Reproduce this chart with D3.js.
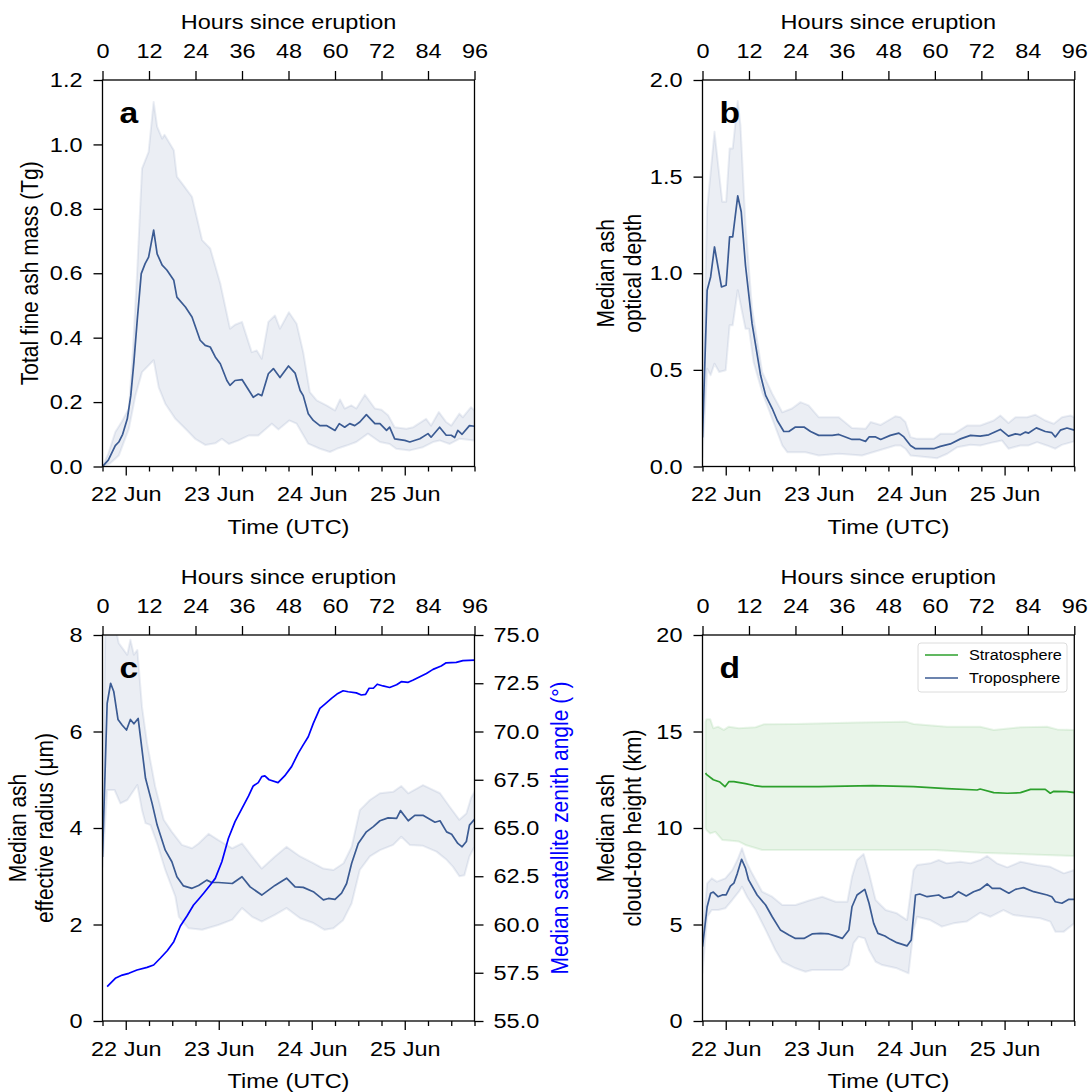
<!DOCTYPE html>
<html><head><meta charset="utf-8">
<script src="https://cdn.jsdelivr.net/npm/d3@7"></script>
<style>
body{margin:0;background:#fff}
svg{display:block}
text{font-family:"Liberation Sans",Arial,Helvetica,sans-serif;fill:#000}
</style>
</head><body>
<svg id="chart" width="1088" height="1092"></svg>
<script>
// ---------------- DATA (hours since eruption, value) ----------------
const hourTicks = [0, 12, 24, 36, 48, 60, 72, 84, 96];
const massTicks = [0, 0.2, 0.4, 0.6, 0.8, 1.0, 1.2];
const aodTicks = [0, 0.5, 1.0, 1.5, 2.0];
const reffTicks = [0, 2, 4, 6, 8];
const szaTicks = [55, 57.5, 60, 62.5, 65, 67.5, 70, 72.5, 75];
const heightTicks = [0, 5, 10, 15, 20];
const legendLabels = ["Stratosphere", "Troposphere"];

const massMedian = [[0,0],[1.5,0.02],[3.3,0.065],[4.2,0.076],[5.2,0.1],[6.4,0.148],[7.3,0.22],[8.1,0.324],[9,0.46],[10,0.599],[11,0.63],[11.9,0.65],[13.2,0.734],[14.1,0.66],[15.4,0.625],[16.6,0.61],[18.4,0.578],[19.2,0.526],[21.4,0.495],[23.1,0.464],[25.2,0.392],[26.5,0.376],[27.8,0.371],[29.1,0.34],[30.4,0.319],[32.1,0.267],[32.9,0.252],[34.2,0.267],[36,0.27],[38.9,0.215],[40.2,0.225],[41.1,0.22],[42.8,0.288],[44.1,0.304],[45.8,0.276],[48,0.312],[49.7,0.29],[51,0.236],[51.8,0.22],[53.1,0.164],[54.4,0.143],[56.1,0.127],[57.8,0.127],[60,0.112],[61.1,0.133],[62.5,0.122],[63.8,0.133],[65.1,0.127],[66.4,0.138],[68.1,0.161],[70.3,0.133],[71.6,0.133],[73.3,0.112],[74.1,0.122],[75.4,0.086],[78,0.081],[79.3,0.076],[81.9,0.086],[84,0.102],[84.8,0.091],[87,0.122],[88.7,0.097],[90,0.097],[90.9,0.09],[91.7,0.112],[92.8,0.1],[94.7,0.127],[96,0.125]];
const massHigh = [[0,0],[1.5,0.04],[3.3,0.107],[5,0.14],[6.8,0.18],[7.8,0.35],[8.9,0.594],[10.2,0.925],[11.9,0.977],[13.2,1.132],[14.1,1.055],[15.4,1.018],[16,1.03],[18.4,0.982],[19.2,0.9],[20.9,0.873],[23.1,0.837],[25.7,0.703],[27.8,0.677],[30.4,0.568],[32.9,0.428],[34.2,0.44],[36,0.449],[38.5,0.355],[39.8,0.36],[41.1,0.335],[42.8,0.449],[44.5,0.469],[45.8,0.428],[48.1,0.479],[50.1,0.443],[51.8,0.355],[53.5,0.231],[55.3,0.205],[57.8,0.19],[60,0.174],[61.3,0.208],[62.5,0.18],[64.2,0.19],[65.5,0.18],[67.7,0.223],[70.3,0.18],[72,0.176],[73.7,0.159],[75.4,0.122],[78.4,0.117],[80.2,0.122],[83.5,0.148],[84.8,0.127],[86.8,0.169],[88.7,0.138],[90,0.127],[92.1,0.164],[93,0.153],[95.1,0.184],[96,0.174]];
const massLow = [[0,0],[2,0.01],[4.2,0.034],[6.8,0.117],[8.5,0.22],[10.2,0.293],[13.2,0.33],[14.5,0.246],[16.2,0.195],[18.8,0.148],[21.4,0.117],[23.9,0.086],[26.5,0.067],[29.1,0.072],[30.8,0.086],[32.6,0.07],[35.1,0.081],[37.7,0.096],[40.2,0.096],[43.7,0.133],[45.4,0.115],[48.2,0.143],[50.1,0.133],[53.1,0.071],[56.1,0.055],[58.7,0.045],[60.5,0.055],[63,0.065],[65.5,0.076],[68.5,0.102],[71.6,0.076],[74.1,0.07],[75.8,0.055],[79.3,0.05],[82.7,0.06],[85.3,0.076],[87,0.081],[89.6,0.07],[92.1,0.086],[96,0.081]];

const aodMedian = [[0,0.15],[1.2,0.912],[2.1,0.981],[3.1,1.136],[4.9,0.929],[6.1,0.938],[7,1.188],[7.8,1.188],[9.1,1.4],[10,1.318],[11.1,1.04],[12.8,0.739],[15,0.472],[16.3,0.368],[18,0.3],[19.3,0.238],[21,0.181],[22.3,0.181],[24,0.204],[26.2,0.204],[27.9,0.181],[30,0.161],[33.5,0.161],[35.2,0.166],[38.6,0.14],[40.7,0.14],[42.1,0.13],[43,0.153],[44.7,0.153],[46,0.14],[48.5,0.161],[50.7,0.173],[52,0.153],[53.7,0.109],[55,0.092],[59.7,0.092],[61.4,0.104],[64,0.117],[66.6,0.143],[69.2,0.161],[71.7,0.157],[73.9,0.164],[76.9,0.192],[79,0.157],[80.8,0.169],[82.1,0.164],[83.4,0.178],[84.2,0.173],[86.2,0.2],[88.5,0.181],[90.2,0.175],[91.1,0.153],[92.4,0.188],[94.1,0.199],[96,0.188]];
const aodHigh = [[0,0.3],[1.2,1.335],[3.1,1.732],[5.1,1.37],[6.1,1.37],[7,1.646],[7.8,1.646],[9.1,1.891],[9.8,1.767],[11.1,1.249],[12.8,0.817],[15.4,0.489],[18,0.377],[20.6,0.281],[23.1,0.3],[25.3,0.333],[27.4,0.316],[30,0.255],[35.2,0.255],[38.6,0.199],[42.1,0.195],[43.4,0.23],[46,0.215],[49.8,0.26],[51.1,0.255],[52.4,0.23],[53.7,0.152],[55.4,0.143],[59.7,0.143],[61.4,0.169],[64.9,0.169],[68.3,0.212],[71.7,0.212],[75.2,0.238],[76.9,0.264],[79,0.225],[80.8,0.255],[83.8,0.255],[85.9,0.268],[88.5,0.238],[90.7,0.221],[92.8,0.255],[95,0.264],[96,0.255]];
const aodLow = [[0,0.05],[1.2,0.506],[2.1,0.472],[3.1,0.532],[4.3,0.489],[6,0.498],[7,0.731],[7.8,0.731],[9.1,0.912],[11.1,0.713],[12,0.713],[13.2,0.54],[15.4,0.385],[18,0.247],[20.6,0.109],[21.9,0.074],[26.6,0.074],[30,0.057],[35.2,0.066],[41.2,0.057],[45.5,0.083],[49.8,0.109],[51.1,0.109],[52.4,0.092],[53.7,0.057],[60.6,0.043],[63.2,0.066],[65.8,0.1],[69.2,0.112],[71.7,0.109],[75.2,0.126],[77.3,0.135],[79,0.092],[82.1,0.109],[84.2,0.109],[86.4,0.126],[88.9,0.109],[91.1,0.092],[92.8,0.112],[96,0.13]];

const reffMedian = [[0,3.4],[1.2,6.58],[2.1,7.0],[2.9,6.83],[4,6.25],[5.1,6.13],[6.2,6.03],[7.2,6.25],[8.1,6.16],[9.2,6.27],[10.2,5.62],[11.1,5.03],[12.8,4.51],[14.1,4.06],[16.2,3.54],[17.9,3.3],[19.2,2.99],[20.9,2.8],[23.1,2.75],[24.8,2.81],[26.9,2.92],[28.2,2.87],[29.9,2.87],[33.5,2.85],[36,2.99],[38.1,2.78],[41.1,2.61],[44.5,2.81],[47.5,2.96],[49.7,2.78],[51.8,2.77],[54.4,2.68],[57,2.51],[58.3,2.54],[60,2.52],[61.7,2.65],[63,2.85],[64.3,3.27],[66,3.68],[68.1,3.92],[69.9,4.03],[71.6,4.15],[73.7,4.21],[75.9,4.2],[76.9,4.36],[78.9,4.15],[80.6,4.26],[82.8,4.26],[85.8,4.12],[87.1,4.15],[88.8,3.92],[90.1,3.87],[91.7,3.68],[92.8,3.61],[93.9,3.72],[94.7,4.06],[96,4.18]];
const reffHigh = [[0,3.6],[0.8,8.6],[2.5,8.4],[3.5,8.1],[4.2,7.83],[6.4,7.59],[7.2,7.9],[8.1,7.59],[9,7.69],[10.2,6.51],[11.5,5.76],[13.6,4.86],[15.8,4.17],[17.9,3.92],[20.5,3.65],[23.1,3.58],[24.8,3.68],[27.4,3.88],[29.9,3.75],[33.5,3.58],[36,3.68],[38.6,3.41],[41.1,3.16],[44.5,3.41],[47.5,3.61],[51,3.41],[54.4,3.27],[57,3.16],[59.6,3.13],[62.2,3.27],[64.3,3.61],[66.4,4.37],[69,4.58],[71.6,4.72],[75,4.75],[77.1,4.87],[78.9,4.72],[82.7,4.89],[87.1,4.72],[89.6,4.44],[92.1,4.17],[93.9,4.3],[95.1,4.62],[96,4.75]];
const reffLow = [[0,3.2],[1.2,4.79],[3.1,4.79],[4.6,4.51],[6.4,4.58],[9,4.89],[10.2,4.37],[11.1,4.1],[12.4,4.06],[14.1,3.68],[16.2,3.13],[18.8,2.58],[19.7,2.16],[22.2,1.92],[25.7,1.89],[29.9,1.99],[33.5,2.1],[36,2.34],[38.6,2.16],[41.1,2.06],[44.5,2.2],[47.5,2.34],[51,2.13],[54.4,2.03],[57.3,1.89],[59.6,1.92],[62.1,2.09],[64.3,2.44],[66.4,3.13],[69,3.41],[71.6,3.54],[75,3.65],[77.1,3.82],[79.3,3.65],[82.7,3.63],[86.2,3.51],[88.8,3.34],[90.4,3.2],[92.1,3.0],[93.4,3.02],[94.7,3.41],[96,3.61]];

const szaMedian = [[1.2,56.78],[3.3,57.21],[5.1,57.38],[6.8,57.47],[8.9,57.64],[11.5,57.78],[13.2,57.9],[14.9,58.25],[16.7,58.64],[18.4,59.11],[20.1,59.92],[21.8,60.44],[23.5,61.01],[24.8,61.31],[26.1,61.62],[27.8,62.05],[29.1,62.39],[30.8,63.25],[32.5,64.47],[34.2,65.33],[36,66.02],[37.7,66.66],[38.9,67.18],[40.2,67.35],[41.1,67.66],[41.9,67.7],[43,67.5],[45.3,67.35],[47,67.7],[48.8,68.18],[50.5,68.87],[51.8,69.31],[53.1,69.73],[54.4,70.42],[56.1,71.2],[57.4,71.42],[59.1,71.72],[60.5,71.94],[62.1,72.11],[63.4,72.06],[65.5,72.0],[66.8,71.89],[67.9,71.92],[68.8,72.24],[69.9,72.24],[70.9,72.45],[72.4,72.36],[74.1,72.28],[75.9,72.42],[77.1,72.58],[78.9,72.55],[80.2,72.67],[81.9,72.84],[83.6,73.01],[85.3,73.22],[87.4,73.39],[88.7,73.56],[91.3,73.58],[93,73.67],[96,73.7]];

const stratMedian = [[0.8,12.85],[1,12.78],[2.8,12.5],[4.5,12.38],[5.8,12.14],[6.8,12.4],[8.1,12.4],[11.1,12.3],[13.3,12.2],[15.4,12.14],[30,12.14],[43.9,12.2],[54.5,12.14],[63.1,12.04],[70.9,11.97],[71.7,12.02],[75.2,11.83],[78.7,11.8],[82.1,11.83],[84.7,12.0],[88.5,12.0],[89.8,11.8],[90.7,11.9],[94.1,11.88],[96,11.83]];
const stratHigh = [[0.8,15.5],[1,15.63],[2,15.63],[2.8,15.17],[4,15.25],[5.5,15.08],[6.8,15.25],[9.4,15.17],[13.7,15.22],[15.8,15.37],[24,15.39],[40,15.46],[52.5,15.51],[54.5,15.39],[63.1,15.25],[71.7,15.25],[75.2,15.08],[82.1,15.22],[89,15.25],[91.6,15.11],[96,15.08]];
const stratLow = [[0.8,10.0],[1,9.9],[2,9.72],[3.3,9.8],[5.1,9.38],[6.8,9.35],[9.4,9.3],[11.1,9.12],[15.4,8.86],[40,8.86],[60,8.86],[71.7,8.72],[96,8.55]];

const tropoMedian = [[0,3.85],[1.2,5.92],[2.1,6.62],[2.8,6.68],[4,6.44],[5.1,6.53],[6.1,6.53],[7.2,6.99],[8.1,7.14],[9,7.65],[10.1,8.38],[11.1,7.92],[11.9,7.31],[14.1,6.53],[16.3,6.01],[18,5.4],[20.1,4.72],[22.3,4.46],[24,4.28],[26.2,4.28],[28.3,4.51],[30.5,4.54],[32.6,4.51],[34.4,4.4],[36.1,4.28],[37.8,4.72],[38.6,5.92],[39.9,6.53],[41.9,6.82],[43,6.1],[44.2,5.06],[45.3,4.54],[47.1,4.4],[48.5,4.23],[50.2,4.06],[52.8,3.89],[53.9,4.2],[55,6.53],[56.1,6.58],[58,6.44],[61,6.53],[62.3,6.36],[64.4,6.44],[66.1,6.7],[68.1,6.48],[70,6.7],[71.7,6.82],[73.5,7.1],[74.8,6.87],[76.9,6.87],[79.1,6.62],[80.8,6.82],[82.9,6.91],[85.5,6.7],[89,6.53],[90.2,6.44],[91.1,6.18],[92.8,6.1],[94.5,6.3],[96,6.3]];
const tropoHigh = [[0,4.5],[1.2,7.13],[2.4,7.39],[3.7,7.22],[5.9,7.39],[7.7,7.82],[9,8.34],[10.2,8.95],[11.5,8.17],[12.8,7.65],[15.4,6.7],[18,6.44],[20.6,6.01],[24,6.01],[27.5,6.24],[30.9,6.44],[34.4,6.18],[37.4,6.18],[38.6,7.48],[39.9,8.34],[41.6,8.65],[43,7.65],[44.7,6.27],[47.3,5.75],[50.2,5.58],[52.8,5.23],[54.5,7.82],[55.4,8.08],[58.8,8.17],[61,8.34],[63.1,8.17],[66.6,8.25],[69.2,8.17],[71.7,8.34],[73.5,8.55],[76,8.17],[78.7,7.96],[82.1,8.25],[86.4,8.08],[89.8,7.99],[93.3,7.65],[96,7.82]];
const tropoLow = [[0,2.5],[1.2,5.4],[2.4,5.75],[4.1,5.75],[5.9,5.84],[7.7,6.27],[9.4,6.7],[10.2,6.96],[11.5,6.44],[13.7,5.75],[16.3,4.72],[18.8,3.68],[20.6,3.07],[24,2.73],[26.6,2.55],[28.3,2.64],[36.1,2.64],[37.8,2.9],[39,4.03],[40.3,4.37],[41.9,4.28],[43,3.68],[44.7,3.07],[46.4,2.9],[50.2,2.73],[53.2,2.47],[54.5,4.72],[55.4,5.4],[58.8,5.23],[61.8,4.89],[64.8,5.06],[68.2,5.15],[71.7,5.61],[74.3,5.4],[77.7,5.75],[80.3,5.49],[83.7,5.4],[87.2,5.32],[89.8,5.15],[91.1,4.63],[93.3,4.63],[96,5.06]];

// ---------------- STYLE / LAYOUT ----------------
const BLUE = "#3b5b93", GREEN = "#2ca02c", SZA = "#0000ff";
const FS = 21;          // base font size
const SX = 1.12;        // horizontal glyph stretch seen in the reference
const t0 = new Date(Date.UTC(2019, 5, 21, 18));
const t1 = new Date(Date.UTC(2019, 5, 25, 18));
const svg = d3.select("#chart");

const panels = [
  {letter:"a", box:{x0:102.5,x1:474.5,y0:80,y1:466.5}, ydom:[0,1.2], yticks:massTicks, yfmt:d3.format(".1f"),
   ylab:[["Total fine ash mass (Tg)", 30]],
   series:[{med:massMedian, lo:massLow, hi:massHigh, color:BLUE}]},
  {letter:"b", box:{x0:702.5,x1:1074.3,y0:80,y1:466.5}, ydom:[0,2], yticks:aodTicks, yfmt:d3.format(".1f"),
   ylab:[["Median ash", 606],["optical depth", 633]],
   series:[{med:aodMedian, lo:aodLow, hi:aodHigh, color:BLUE}]},
  {letter:"c", box:{x0:102.5,x1:474.5,y0:635,y1:1021}, ydom:[0,8], yticks:reffTicks, yfmt:d3.format("d"),
   ylab:[["Median ash", 18],["effective radius (\u03bcm)", 45]],
   series:[{med:reffMedian, lo:reffLow, hi:reffHigh, color:BLUE}],
   right:{dom:[55,75], ticks:szaTicks, fmt:d3.format(".1f"), data:szaMedian, color:SZA, label:"Median satellite zenith angle (\u00b0)", lx:560}},
  {letter:"d", box:{x0:702.5,x1:1074.3,y0:635,y1:1021}, ydom:[0,20], yticks:heightTicks, yfmt:d3.format("d"),
   ylab:[["Median ash", 606],["cloud-top height (km)", 633]],
   series:[{med:stratMedian, lo:stratLow, hi:stratHigh, color:GREEN},{med:tropoMedian, lo:tropoLow, hi:tropoHigh, color:BLUE}],
   legend:true}
];

function styleAxis(sel) {
  sel.select(".domain").remove();
  sel.selectAll(".tick line").attr("stroke", "#000").attr("stroke-width", 1.3);
  sel.selectAll(".tick text").attr("font-size", FS).attr("fill", "#000")
     .attr("font-family", "'Liberation Sans',Arial,Helvetica,sans-serif");
}
function vLabel(g, txt, lx, cy, color) {
  const t = g.append("g").attr("transform", `translate(${lx},${cy})`)
    .append("text").attr("transform", "rotate(-90)").attr("text-anchor", "middle")
    .attr("dy", "0.35em").attr("font-size", FS).text(txt);
  if (color) t.style("fill", color);
}

panels.forEach((p, i) => {
  const b = p.box;
  const g = svg.append("g");
  const x = d3.scaleLinear().domain([0, 96]).range([b.x0, b.x1]);
  const tx = d3.scaleUtc().domain([t0, t1]).range([b.x0, b.x1]);
  const y = d3.scaleLinear().domain(p.ydom).range([b.y1, b.y0]);

  const clipId = "clip" + i;
  svg.append("clipPath").attr("id", clipId).append("rect")
    .attr("x", b.x0).attr("y", b.y0).attr("width", b.x1 - b.x0).attr("height", b.y1 - b.y0);
  const plot = g.append("g").attr("clip-path", `url(#${clipId})`);

  const line = d3.line().x(d => x(d[0])).y(d => y(d[1]));
  p.series.forEach(s => {
    const poly = s.hi.concat(s.lo.slice().reverse());
    plot.append("path").attr("d", line(poly) + "Z")
      .attr("fill", s.color).attr("fill-opacity", 0.1)
      .attr("stroke", s.color).attr("stroke-opacity", 0.1).attr("stroke-width", 2).attr("stroke-linejoin", "round");
  });
  p.series.forEach(s => {
    plot.append("path").attr("d", line(s.med)).attr("fill", "none")
      .attr("stroke", s.color).attr("stroke-width", 1.7).attr("stroke-linejoin", "round");
  });

  if (p.right) {
    const yr = d3.scaleLinear().domain(p.right.dom).range([b.y1, b.y0]);
    const lr = d3.line().x(d => x(d[0])).y(d => yr(d[1]));
    plot.append("path").attr("d", lr(p.right.data)).attr("fill", "none")
      .attr("stroke", p.right.color).attr("stroke-width", 1.7).attr("stroke-linejoin", "round");
    const ar = g.append("g").attr("transform", `translate(${b.x1},0)`)
      .call(d3.axisRight(yr).tickValues(p.right.ticks).tickFormat(p.right.fmt).tickSize(9).tickPadding(10));
    styleAxis(ar);
    vLabel(g, p.right.label, p.right.lx, (b.y0 + b.y1) / 2, p.right.color);
  }

  const al = g.append("g").attr("transform", `translate(${b.x0},0)`)
    .call(d3.axisLeft(y).tickValues(p.yticks).tickFormat(p.yfmt).tickSize(9).tickPadding(11));
  styleAxis(al);

  const at = g.append("g").attr("transform", `translate(0,${b.y0})`)
    .call(d3.axisTop(x).tickValues(hourTicks).tickFormat(d3.format("d")).tickSize(9).tickPadding(13));
  styleAxis(at);

  const days = d3.utcDay.range(t0, t1);
  const minor = d3.utcHour.every(6).range(t0, new Date(+t1 + 1)).filter(d => d.getUTCHours() !== 0);
  const abm = g.append("g").attr("transform", `translate(0,${b.y1})`)
    .call(d3.axisBottom(tx).tickValues(minor).tickFormat("").tickSize(5));
  styleAxis(abm);
  const ab = g.append("g").attr("transform", `translate(0,${b.y1})`)
    .call(d3.axisBottom(tx).tickValues(days).tickFormat(d3.utcFormat("%-d %b")).tickSize(9).tickPadding(11));
  styleAxis(ab);

  g.append("rect").attr("x", b.x0).attr("y", b.y0).attr("width", b.x1 - b.x0).attr("height", b.y1 - b.y0)
    .attr("fill", "none").attr("stroke", "#000").attr("stroke-width", 1.3);

  const cx = (b.x0 + b.x1) / 2;
  g.append("text").attr("x", cx).attr("y", b.y0 - 51).attr("text-anchor", "middle").attr("font-size", FS).text("Hours since eruption");
  g.append("text").attr("x", cx).attr("y", b.y1 + 67).attr("text-anchor", "middle").attr("font-size", FS).text("Time (UTC)");
  p.ylab.forEach(([txt, lx]) => vLabel(g, txt, lx, (b.y0 + b.y1) / 2));

  g.append("text").attr("x", b.x0 + 17).attr("y", b.y0 + 43).attr("font-size", 30).attr("font-weight", "bold").text(p.letter);

  if (p.legend) {
    const lg = g.append("g");
    lg.append("rect").attr("x", 918).attr("y", 643).attr("width", 149).attr("height", 49).attr("rx", 3)
      .attr("fill", "#fff").attr("fill-opacity", 0.8).attr("stroke", "#dcdcdc").attr("stroke-width", 1);
    p.series.forEach((s, k) => {
      const ly = 655 + k * 23;
      lg.append("line").attr("x1", 925).attr("x2", 958).attr("y1", ly).attr("y2", ly)
        .attr("stroke", s.color).attr("stroke-width", 1.7);
      lg.append("text").attr("x", 969).attr("y", ly).attr("dy", "0.35em").attr("font-size", 14.5).text(legendLabels[k]);
    });
  }
});

// apply the horizontal glyph stretch to every text, keeping anchors in place
svg.selectAll("text").each(function () {
  const t = d3.select(this);
  const xx = +t.attr("x") || 0, yy = +t.attr("y") || 0;
  const tr = t.attr("transform") || "";
  t.attr("x", 0).attr("y", 0).attr("transform", `translate(${xx},${yy}) scale(${SX},1) ${tr}`);
});
</script>
</body></html>
